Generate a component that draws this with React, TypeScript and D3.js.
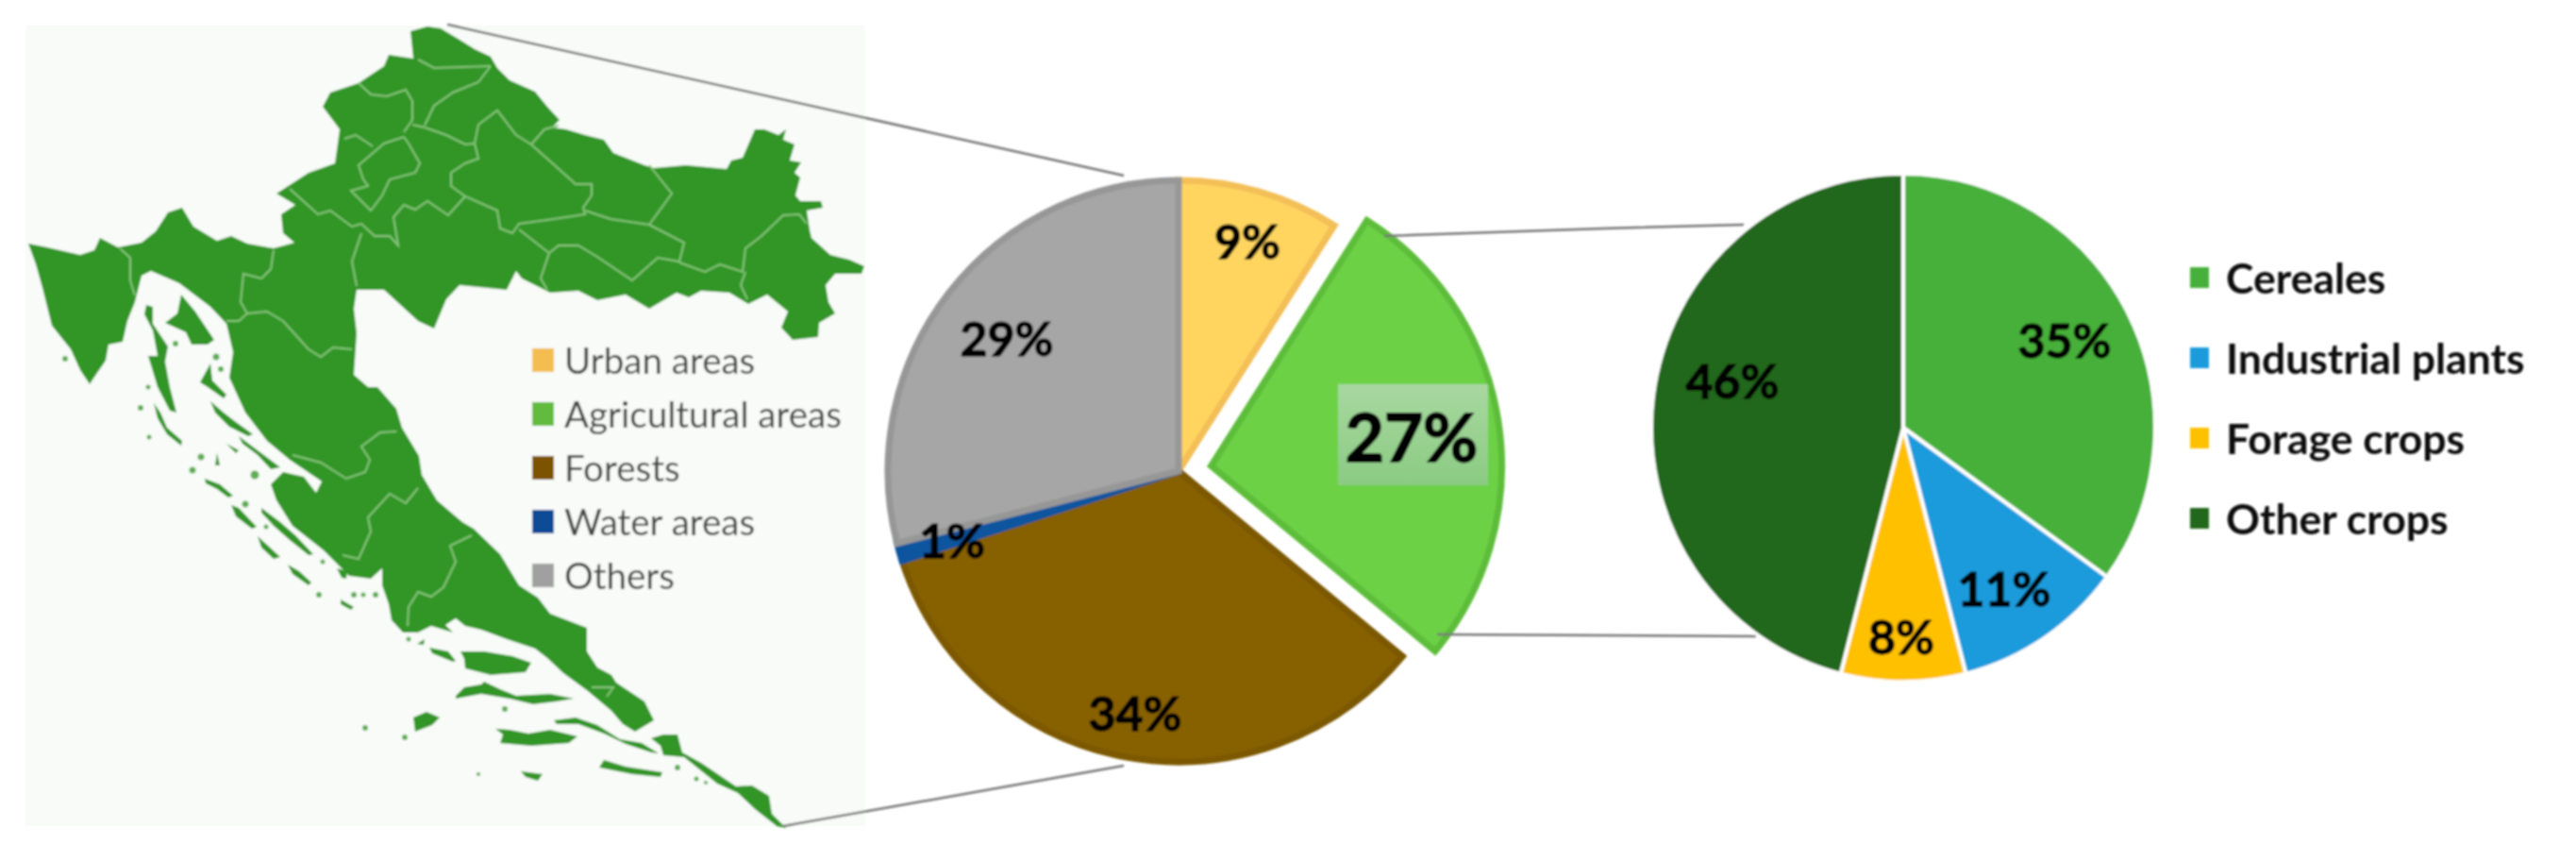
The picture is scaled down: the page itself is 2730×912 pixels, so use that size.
import React from "react";
import * as d3 from "d3";

const landUseLabels = ["Urban areas", "Agricultural areas", "Forests", "Water areas", "Others"];
const landUseValues = [9, 27, 34, 1, 29];
const landUseFill = ["#ffd561", "#6cd145", "#876000", "#0b549f", "#a6a6a6"];
const landUseStroke = ["#f3bf57", "#5dbd3b", "#7c5800", "#0b549f", "#979797"];
const landUseLegendColor = ["#f3bd4f", "#62bb3c", "#7b5200", "#0c4c96", "#a0a0a0"];

const cropLabels = ["Cereales", "Industrial plants", "Forage crops", "Other crops"];
const cropValues = [35, 11, 8, 46];
const cropFill = ["#47b03a", "#1a9bdc", "#ffc000", "#22681f"];

type P = [number, number];
const mainland: P[] = [[435,33],[453,28],[467,30],[487,42],[503,52],[520,60],[527,72],[540,85],[567,97],[580,113],[593,127],[585,135],[600,137],[620,143],[640,148],[650,162],[683,175],[693,178],[727,175],[770,179],[775,170],[787,167],[800,137],[810,137],[825,143],[833,137],[830,148],[842,153],[837,170],[849,172],[842,183],[848,188],[843,207],[848,213],[870,213],[872,220],[855,223],[858,243],[860,252],[880,270],[900,275],[916,282],[913,290],[885,290],[875,302],[878,320],[885,332],[868,342],[867,357],[840,360],[828,347],[835,330],[813,312],[793,322],[773,310],[743,308],[730,315],[717,310],[688,327],[663,312],[633,318],[613,308],[583,310],[573,305],[553,295],[547,287],[537,307],[487,302],[473,317],[460,348],[443,340],[407,307],[378,307],[375,327],[378,353],[375,397],[390,410],[400,410],[420,433],[426,453],[444,483],[447,503],[463,530],[490,553],[502,560],[530,587],[550,620],[570,633],[583,650],[622,665],[622,690],[633,707],[648,715],[653,723],[683,743],[693,763],[673,775],[660,767],[648,753],[623,732],[597,713],[580,697],[567,687],[537,677],[510,667],[493,663],[483,655],[472,662],[480,670],[457,663],[443,670],[427,670],[415,657],[412,640],[405,620],[405,602],[393,613],[370,610],[343,583],[310,557],[293,530],[287,513],[300,500],[322,505],[335,522],[341,510],[307,487],[283,467],[260,437],[243,400],[247,373],[240,343],[223,325],[190,300],[160,287],[150,292],[143,320],[135,340],[130,362],[115,365],[112,382],[103,395],[95,407],[85,392],[75,370],[55,345],[50,325],[45,305],[38,280],[30,258],[50,262],[85,270],[100,265],[106,252],[125,262],[150,257],[165,245],[178,225],[193,220],[205,240],[230,255],[245,250],[262,258],[290,263],[312,257],[300,247],[298,227],[313,217],[293,205],[327,183],[355,173],[360,137],[342,113],[350,98],[380,88],[407,70],[412,58],[438,62]];
const islands: P[][] = [
  [[155,323],[162,325],[162,343],[178,367],[175,383],[180,410],[187,437],[180,435],[167,410],[157,377],[167,377],[162,350],[153,333]],
  [[192,312],[207,330],[227,360],[220,365],[203,365],[197,352],[175,342],[188,332]],
  [[212,405],[223,385],[225,403],[240,418],[237,422],[220,410]],
  [[163,427],[170,437],[177,453],[193,467],[192,472],[177,460],[167,443]],
  [[223,425],[237,437],[250,447],[268,460],[263,462],[243,452],[228,437]],
  [[253,462],[277,480],[297,495],[287,497],[273,482],[257,470]],
  [[240,470],[253,477],[250,480]],
  [[230,480],[233,493],[228,493]],
  [[217,507],[233,513],[247,525],[242,527],[230,518],[218,512]],
  [[245,535],[253,538],[272,558],[267,560],[250,547]],
  [[277,538],[297,553],[313,567],[332,587],[327,588],[307,572],[290,557],[277,543]],
  [[273,568],[283,577],[297,590],[290,592],[277,580]],
  [[305,598],[317,605],[330,617],[327,620],[310,608]],
  [[361,635],[375,643],[372,646],[361,640]],
  [[357,602],[368,605],[367,613],[362,612]],
  [[442,682],[450,677],[449,683]],
  [[455,686],[475,690],[483,700],[480,701],[458,692]],
  [[488,690],[513,690],[543,695],[563,702],[557,712],[520,715],[493,708],[492,698]],
  [[483,737],[492,728],[510,725],[513,722],[530,730],[547,737],[583,735],[608,740],[590,743],[565,746],[540,740],[510,735],[483,740]],
  [[438,760],[452,754],[466,760],[458,768],[440,775]],
  [[525,772],[540,773],[560,777],[583,773],[612,780],[603,787],[563,790],[530,787],[533,778]],
  [[587,763],[610,760],[633,768],[657,783],[680,787],[698,798],[690,797],[663,788],[640,777],[613,767],[590,767]],
  [[690,782],[703,778],[718,778],[723,797],[743,808],[780,833],[797,832],[815,843],[818,862],[833,877],[823,875],[800,857],[782,840],[760,830],[725,802],[703,800],[700,790]],
  [[640,805],[663,812],[702,818],[700,823],[670,820],[635,813]],
  [[552,817],[575,820],[570,827],[557,823]],
];
const islets: [number, number, number][] = [[186,364,3],[229,378,3.5],[234,391,3],[69,380,3],[157,410,2.5],[149,432,3],[158,463,2.5],[213,484,3.5],[204,498,3.5],[270,503,4.5],[260,534,3.5],[282,558,2.5],[342,595,2.5],[338,630,3],[375,630,3],[385,630,2.5],[398,630,3],[433,677,2.5],[535,751,3],[387,771,3],[429,781,3],[507,820,2],[718,813,3],[738,825,2.5],[748,829,2]];
const borders: P[][] = [
  [[443,63],[460,72],[520,70]],
  [[520,70],[507,87],[480,98],[460,112],[450,133]],
  [[380,88],[393,100],[410,102],[430,95],[437,107],[437,127],[428,140]],
  [[437,132],[450,135],[473,143],[493,153],[503,152],[507,132],[527,117],[547,143],[563,153],[590,177],[610,195],[627,195],[627,207],[618,220],[620,227],[580,233],[550,237],[543,247],[530,242],[527,223],[493,208],[478,197],[478,183],[493,173],[507,168],[503,152]],
  [[563,153],[577,137],[592,133]],
  [[428,145],[407,152],[380,175],[385,190],[390,197],[372,202],[393,223],[405,207],[413,190],[440,183],[445,173],[433,152],[428,145]],
  [[365,147],[377,143],[395,155]],
  [[307,200],[337,227],[350,223],[373,240],[383,237],[397,250],[413,250],[422,260],[417,230],[428,217],[440,222],[453,213],[475,228],[493,208]],
  [[383,247],[373,277],[378,303]],
  [[550,243],[582,268],[573,295],[580,307]],
  [[582,268],[592,260],[613,260],[633,272],[670,297],[697,273],[720,277],[725,257],[688,238]],
  [[620,223],[647,232],[688,238],[712,205],[688,175]],
  [[720,278],[747,288],[763,280],[787,288],[790,263],[807,250],[830,228],[847,227],[855,237]],
  [[790,288],[785,302],[792,317]],
  [[127,263],[138,273],[138,297],[143,313]],
  [[290,265],[287,285],[277,295],[258,290],[255,320],[262,332],[253,340],[240,340]],
  [[262,332],[283,330],[300,340],[327,370],[340,378],[353,368],[373,370]],
  [[310,482],[340,490],[367,507],[387,500],[392,487],[383,473],[403,458],[420,457]],
  [[443,517],[430,533],[413,523],[390,548],[393,563],[380,592],[363,588]],
  [[500,567],[477,578],[483,595],[470,622],[457,632],[443,627],[433,643],[432,663]],
  [[627,728],[650,728],[643,738]],
];
const leaderLines: P[][] = [
  [[474,26],[1191,186]],
  [[830,875],[1191,811]],
  [[1467,250],[1700,242],[1848,238]],
  [[1523,672],[1861,674]],
];

const line = d3.line<P>();
const FONT = "Lato, 'Open Sans', sans-serif";

function Pct({ x, y, size, t }: { x: number; y: number; size: number; t: string }) {
  return <text x={x} y={y} fontSize={size} fontWeight={700} fill="#050505" stroke="#050505" strokeWidth={size / 40} textAnchor="middle" dominantBaseline="central" fontFamily={FONT}>{t}</text>;
}

export default function App() {
  const pie = d3.pie<number>().sort(null).value((d) => d);
  const a1 = pie(landUseValues);
  const a2 = pie(cropValues);
  const R1 = 312, R2 = 267;
  const arc1 = d3.arc<d3.PieArcDatum<number>>().innerRadius(0).outerRadius(R1 - 4);
  const arc2 = d3.arc<d3.PieArcDatum<number>>().innerRadius(0).outerRadius(R2);
  const explode = 35;
  const off = (d: d3.PieArcDatum<number>, i: number) => {
    if (i !== 1) return "";
    const m = (d.startAngle + d.endAngle) / 2;
    return `translate(${explode * Math.sin(m)},${-explode * Math.cos(m)})`;
  };
  return (
    <svg width={2730} height={912} viewBox="0 0 2730 912" style={{ position: "absolute", left: 0, top: 0, background: "#fff" }}>
      <defs>
        <filter id="soft" x="-5%" y="-5%" width="110%" height="110%"><feGaussianBlur stdDeviation="0.9" /></filter>
        <linearGradient id="boxG" x1="0" y1="0" x2="0" y2="1">
          <stop offset="0" stopColor="#a8d8a0" />
          <stop offset="1" stopColor="#8bcb83" />
        </linearGradient>
      </defs>
      <g filter="url(#soft)">
        <rect x={27} y={27} width={890} height={848} fill="#f8fbf8" />
        <path d={line(mainland) + "Z"} fill="#319626" />
        {islands.map((p, i) => <path key={i} d={line(p) + "Z"} fill="#319626" />)}
        {islets.map((c, i) => <circle key={i} cx={c[0]} cy={c[1]} r={c[2]} fill="#5fae55" />)}
        {borders.map((p, i) => <path key={i} d={line(p) || ""} fill="none" stroke="#86c47a" strokeWidth={2} />)}
        {landUseLabels.map((t, i) => (
          <g key={t}>
            <rect x={564} y={369 + i * 57} width={23} height={25} fill={landUseLegendColor[i]} />
            <text x={598} y={381 + i * 57} fontSize={38.5} fill="#444" dominantBaseline="central" fontFamily={FONT}>{t}</text>
          </g>
        ))}
        <g transform="translate(1249,499)">
          {a1.map((d, i) => (
            <path key={i} d={arc1(d) || ""} transform={off(d, i)} fill={landUseFill[i]} stroke={landUseStroke[i]} strokeWidth={7} strokeLinejoin="miter" />
          ))}
        </g>
        <g transform="translate(2017,453) scale(1,1.008)">
          {a2.map((d, i) => <path key={i} d={arc2(d) || ""} fill={cropFill[i]} stroke="#fff" strokeWidth={4} />)}
        </g>
        {leaderLines.map((l, i) => <path key={i} d={line(l) || ""} fill="none" stroke="#777" strokeWidth={2.5} />)}
        <rect x={1418} y={407} width={159} height={107} fill="url(#boxG)" />
        <Pct x={1322} y={255} size={50} t="9%" />
        <Pct x={1067} y={358} size={50} t="29%" />
        <Pct x={1496} y={461} size={71} t="27%" />
        <Pct x={1009} y={572} size={50} t="1%" />
        <Pct x={1203} y={755} size={50} t="34%" />
        <Pct x={2188} y={360} size={50} t="35%" />
        <Pct x={2124} y={623} size={50} t="11%" />
        <Pct x={2015} y={674} size={50} t="8%" />
        <Pct x={1836} y={403} size={50} t="46%" />
        {cropLabels.map((t, i) => (
          <g key={t}>
            <rect x={2321} y={283 + i * 85} width={20} height={22} fill={cropFill[i]} />
            <text x={2359} y={293 + i * 85} fontSize={44.5} fontWeight={700} fill="#111" dominantBaseline="central" fontFamily={FONT}>{t}</text>
          </g>
        ))}
      </g>
    </svg>
  );
}
